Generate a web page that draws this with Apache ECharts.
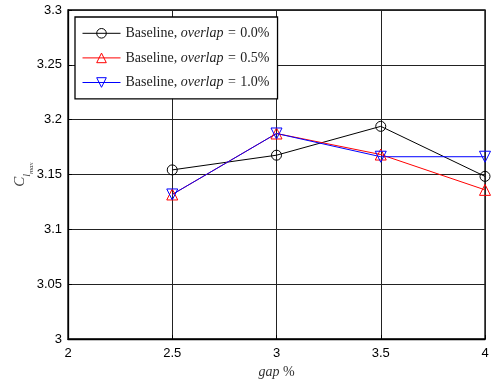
<!DOCTYPE html>
<html><head><meta charset="utf-8">
<script src="https://cdn.jsdelivr.net/npm/echarts@6/dist/echarts.min.js"></script>
<style>html,body{margin:0;padding:0;background:#fff}#c{width:492px;height:380px}</style>
</head><body><div id="c"></div>
<script>
const gaps = [2.5, 3, 3.5, 4];
const overlap00 = [3.1542, 3.1676, 3.1939, 3.1483];
const overlap05 = [3.1318, 3.1874, 3.1682, 3.1360];
const overlap10 = [3.1318, 3.1874, 3.1662, 3.1662];
const seriesNames = ['Baseline, overlap = 0.0%', 'Baseline, overlap = 0.5%', 'Baseline, overlap = 1.0%'];
const xTicks = [2, 2.5, 3, 3.5, 4];
const yTicks = [3, 3.05, 3.1, 3.15, 3.2, 3.25, 3.3];

const serif = '"Liberation Serif","DejaVu Serif",serif';
const sans = '"Liberation Sans",Arial,sans-serif';
function mk(name, vals, color, symbol, rot, size) {
  return {
    name: name, type: 'line',
    data: gaps.map((g, i) => [g, vals[i]]),
    symbol: symbol, symbolSize: size, symbolRotate: rot,
    lineStyle: {color: color, width: 1},
    itemStyle: {color: 'none', borderColor: color, borderWidth: 1},
    emphasis: {disabled: true}, animation: false
  };
}
const chart = echarts.init(document.getElementById('c'));
chart.setOption({
  animation: false,
  grid: {left: 68, right: 7, top: 10, bottom: 41, show: true, borderColor: '#000', borderWidth: 1.3,
         containLabel: false, outerBoundsMode: 'none'},
  xAxis: {
    type: 'value', min: xTicks[0], max: xTicks[xTicks.length - 1], interval: 0.5,
    axisLine: {lineStyle: {color: '#000', width: 1.3}},
    axisTick: {inside: true, length: 4, lineStyle: {color: '#000'}},
    splitLine: {show: true, lineStyle: {color: '#222', width: 1}},
    axisLabel: {color: '#000', fontFamily: sans, fontSize: 13, margin: 8},
    name: '{i|gap}{n| %}', nameLocation: 'middle', nameGap: 26, nameMoveOverlap: false,
    nameTextStyle: {rich: {i: {fontFamily: serif, fontStyle: 'italic', fontSize: 14, color: '#333'}, n: {fontFamily: serif, fontSize: 14, color: '#333'}}}
  },
  yAxis: {
    type: 'value', min: yTicks[0], max: yTicks[yTicks.length - 1], interval: 0.05,
    axisLine: {lineStyle: {color: '#000', width: 1.3}},
    axisTick: {inside: true, length: 4, lineStyle: {color: '#000'}},
    splitLine: {show: true, lineStyle: {color: '#222', width: 1}},
    axisLabel: {color: '#000', fontFamily: sans, fontSize: 13, margin: 6},
    name: '{c|C}{l|l}{m|max}', nameLocation: 'middle', nameGap: 40, nameMoveOverlap: false,
    nameTextStyle: {rich: {
      c: {fontFamily: serif, fontStyle: 'italic', fontSize: 15, color: '#444'},
      l: {fontFamily: serif, fontStyle: 'italic', fontSize: 10, color: '#444', verticalAlign: 'bottom', padding: [0, 0, -4, 0]},
      m: {fontFamily: serif, fontStyle: 'italic', fontSize: 7, color: '#444', verticalAlign: 'bottom', padding: [0, 0, -7, 0]}
    }}
  },
  legend: {
    orient: 'vertical', left: 75, top: 17, padding: [9, 8, 9, 7], itemGap: 10,
    itemWidth: 38, itemHeight: 12,
    backgroundColor: '#fff', borderColor: '#000', borderWidth: 1.3,
    selectedMode: false,
    data: seriesNames,
    itemStyle: {borderWidth: 1},
    lineStyle: {width: 1},
    formatter: function (n) { return n.replace('overlap = ', '{i|overlap}{n| = }'); },
    textStyle: {fontFamily: serif, fontSize: 14, color: '#222',
      rich: {i: {fontFamily: serif, fontStyle: 'italic', fontSize: 14, color: '#222'},
             n: {fontFamily: serif, fontSize: 14, color: '#222', padding: [0, 1, 0, 1]}}}
  },
  series: [
    mk(seriesNames[0], overlap00, '#000', 'circle', 0, 10),
    mk(seriesNames[1], overlap05, '#ff0000', 'triangle', 0, 11),
    mk(seriesNames[2], overlap10, '#0000ff', 'triangle', 180, 11)
  ]
});
</script></body></html>
